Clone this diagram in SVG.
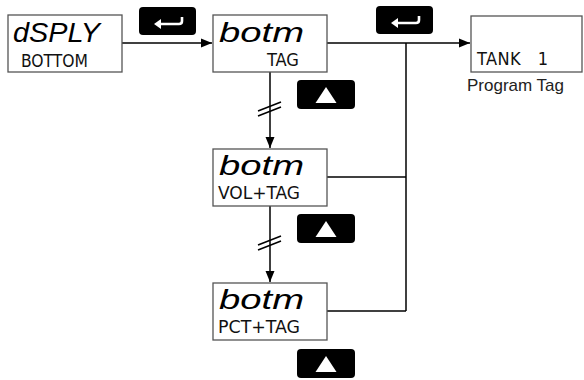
<svg xmlns="http://www.w3.org/2000/svg" width="584" height="380" viewBox="0 0 584 380">
<defs>
<style>
.box{fill:#fff;stroke:#555;stroke-width:1.3}
.btn{fill:#000}
.ln{fill:none;stroke:#000;stroke-width:1.5}
.brk{fill:none;stroke:#000;stroke-width:1.6}
.big{font-family:"Liberation Sans",Arial,sans-serif;font-style:italic;font-size:28px;fill:#000}
.sm{font-family:"DejaVu Sans Condensed","Liberation Sans",Arial,sans-serif;font-size:18px;fill:#111}
.lbl{font-family:"Liberation Sans",Arial,sans-serif;font-size:17px;fill:#222}
.ic{fill:none;stroke:#fff;stroke-width:2.6;stroke-linejoin:round}
</style>
<marker id="ah" markerWidth="12" markerHeight="10" refX="11" refY="5" orient="auto" markerUnits="userSpaceOnUse">
<path d="M0,0.5 L11,5 L0,9.5 Z" fill="#000"/>
</marker>
<g id="enter">
<rect x="0" y="0" width="57" height="28" rx="4" class="btn"/>
<path class="ic" d="M20,17 H40 Q43,17 43,14 V10"/>
<path d="M15,17 L22,12 L22,22 Z" fill="#fff"/>
</g>
<g id="up">
<rect x="0" y="0" width="58" height="29" rx="4" class="btn"/>
<path d="M29,7 L39.5,23 L18.5,23 Z" fill="#fff"/>
</g>
</defs>
<rect width="584" height="380" fill="#fff"/>

<g id="connectors">
<path class="ln" d="M122,43 H212" marker-end="url(#ah)"/>
<path class="ln" d="M327,43 H470" marker-end="url(#ah)"/>
<path class="ln" d="M406,43 V311"/>
<path class="ln" d="M327,177 H406"/>
<path class="ln" d="M327,311 H406"/>
<path class="ln" d="M270,72 V148" marker-end="url(#ah)"/>
<path class="brk" d="M258,111 L281,102 M258,116 L281,107"/>
<path class="ln" d="M270,206 V282" marker-end="url(#ah)"/>
<path class="brk" d="M258,245 L281,236 M258,250 L281,241"/>
</g>

<g id="btn-enter-1"><use href="#enter" x="139" y="7"/></g>
<g id="btn-enter-2"><use href="#enter" x="376" y="6"/></g>
<g id="btn-up-1"><use href="#up" x="297" y="80"/></g>
<g id="btn-up-2"><use href="#up" x="297" y="214"/></g>
<g id="btn-up-3"><use href="#up" x="297" y="349"/></g>

<g id="node-dsply">
<rect class="box" x="8" y="15" width="114" height="57"/>
<text class="big" x="13" y="42" textLength="87" lengthAdjust="spacingAndGlyphs">dSPLY</text>
<text class="sm" x="21" y="67" textLength="67" lengthAdjust="spacingAndGlyphs">BOTTOM</text>
</g>

<g id="node-tag">
<rect class="box" x="213" y="15" width="114" height="57"/>
<text class="big" x="219" y="42" textLength="85" lengthAdjust="spacingAndGlyphs">botm</text>
<text class="sm" x="267" y="66" textLength="32" lengthAdjust="spacingAndGlyphs">TAG</text>
</g>

<g id="node-program-tag">
<rect class="box" x="471" y="16" width="111" height="56"/>
<text class="sm" x="477" y="65" textLength="71" lengthAdjust="spacing" xml:space="preserve">TANK   1</text>
<text class="lbl" x="467" y="91">Program Tag</text>
</g>

<g id="node-vol">
<rect class="box" x="213" y="149" width="114" height="57"/>
<text class="big" x="219" y="175" textLength="85" lengthAdjust="spacingAndGlyphs">botm</text>
<text class="sm" x="218" y="199" textLength="82" lengthAdjust="spacingAndGlyphs">VOL+TAG</text>
</g>

<g id="node-pct">
<rect class="box" x="213" y="283" width="114" height="57"/>
<text class="big" x="219" y="309" textLength="85" lengthAdjust="spacingAndGlyphs">botm</text>
<text class="sm" x="218" y="333" textLength="82" lengthAdjust="spacingAndGlyphs">PCT+TAG</text>
</g>
</svg>
